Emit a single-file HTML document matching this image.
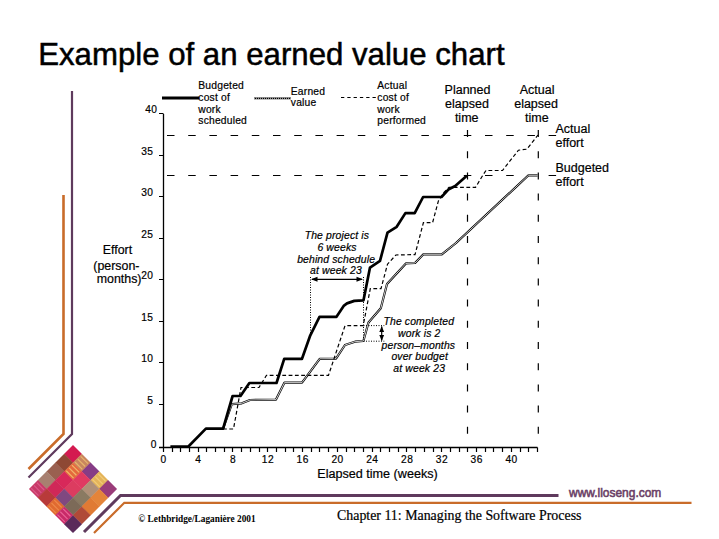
<!DOCTYPE html><html><head><meta charset="utf-8"><style>html,body{margin:0;padding:0;width:719px;height:539px;overflow:hidden;background:#fff}text{fill:#000;stroke:#000;stroke-width:0.2px}</style></head><body><svg width="719" height="539" viewBox="0 0 719 539" style="position:absolute;left:0;top:0"><path d="M72,91 L72,434 L28.5,477.5" fill="none" stroke="#5f3a5d" stroke-width="2.2"/><path d="M63.5,195 L63.5,434 L28.5,469" fill="none" stroke="#c96c2a" stroke-width="2.6"/><path d="M558.5,495.5 L120.5,495.5 L84,532" fill="none" stroke="#5f3a5d" stroke-width="3"/><path d="M691.5,502.8 L124.3,502.8 L94,533" fill="none" stroke="#c96c2a" stroke-width="2.2"/><g transform="translate(73,445) rotate(45)"><rect x="0" y="0" width="12.7" height="12.7" fill="#d41a50"/><rect x="12.4" y="0" width="12.7" height="12.7" fill="#c8865e"/><rect x="24.8" y="0" width="12.7" height="12.7" fill="#863c86"/><rect x="37.2" y="0" width="12.7" height="12.7" fill="#e4b45a"/><rect x="49.6" y="0" width="12.7" height="12.7" fill="#9a3c7a"/><rect x="0" y="12.4" width="12.7" height="12.7" fill="#8e4834"/><rect x="12.4" y="12.4" width="12.7" height="12.7" fill="#e46a3c"/><rect x="24.8" y="12.4" width="12.7" height="12.7" fill="#e03a62"/><rect x="37.2" y="12.4" width="12.7" height="12.7" fill="#b09078"/><rect x="49.6" y="12.4" width="12.7" height="12.7" fill="#e4843a"/><rect x="0" y="24.8" width="12.7" height="12.7" fill="#9a6050"/><rect x="12.4" y="24.8" width="12.7" height="12.7" fill="#d8285a"/><rect x="24.8" y="24.8" width="12.7" height="12.7" fill="#dc3c60"/><rect x="37.2" y="24.8" width="12.7" height="12.7" fill="#8a7a62"/><rect x="49.6" y="24.8" width="12.7" height="12.7" fill="#e07a34"/><rect x="0" y="37.2" width="12.7" height="12.7" fill="#a88070"/><rect x="12.4" y="37.2" width="12.7" height="12.7" fill="#d02858"/><rect x="24.8" y="37.2" width="12.7" height="12.7" fill="#804880"/><rect x="37.2" y="37.2" width="12.7" height="12.7" fill="#7c6a58"/><rect x="49.6" y="37.2" width="12.7" height="12.7" fill="#b04a38"/><rect x="0" y="49.6" width="12.7" height="12.7" fill="#c83a68"/><rect x="12.4" y="49.6" width="12.7" height="12.7" fill="#b83a3a"/><rect x="24.8" y="49.6" width="12.7" height="12.7" fill="#e06a30"/><rect x="37.2" y="49.6" width="12.7" height="12.7" fill="#c82a68"/><rect x="49.6" y="49.6" width="12.7" height="12.7" fill="#5a2a5a"/><rect x="13.4" y="2" width="10.4" height="1.2" fill="#f0c070" opacity="0.8"/><rect x="13.4" y="6" width="10.4" height="1.2" fill="#f0c070" opacity="0.8"/><rect x="13.4" y="10" width="10.4" height="1.2" fill="#f0c070" opacity="0.8"/><rect x="13.4" y="14.4" width="10.4" height="1.2" fill="#f4c878" opacity="0.8"/><rect x="13.4" y="18.4" width="10.4" height="1.2" fill="#f4c878" opacity="0.8"/><rect x="13.4" y="22.4" width="10.4" height="1.2" fill="#f4c878" opacity="0.8"/><rect x="38.2" y="2" width="10.4" height="1.2" fill="#f4d080" opacity="0.8"/><rect x="38.2" y="6" width="10.4" height="1.2" fill="#f4d080" opacity="0.8"/><rect x="38.2" y="10" width="10.4" height="1.2" fill="#f4d080" opacity="0.8"/><rect x="38.2" y="51.6" width="10.4" height="1.2" fill="#f070a0" opacity="0.8"/><rect x="38.2" y="55.6" width="10.4" height="1.2" fill="#f070a0" opacity="0.8"/><rect x="38.2" y="59.6" width="10.4" height="1.2" fill="#f070a0" opacity="0.8"/><rect x="1" y="51.6" width="10.4" height="1.2" fill="#e06090" opacity="0.8"/><rect x="1" y="55.6" width="10.4" height="1.2" fill="#e06090" opacity="0.8"/><rect x="1" y="59.6" width="10.4" height="1.2" fill="#e06090" opacity="0.8"/><rect x="25.8" y="51.6" width="10.4" height="1.2" fill="#f09050" opacity="0.8"/><rect x="25.8" y="55.6" width="10.4" height="1.2" fill="#f09050" opacity="0.8"/><rect x="25.8" y="59.6" width="10.4" height="1.2" fill="#f09050" opacity="0.8"/></g><text x="38.2" y="64.5" font-family="Liberation Sans" font-size="31.2" style="stroke-width:0.5px">Example of an earned value chart</text><path d="M163.5,114 L163.5,447.5 M159,447.5 L537.5,447.5" fill="none" stroke="#000" stroke-width="1.3"/><path d="M159,404.5 L163.5,404.5 M159,362.5 L163.5,362.5 M159,321.5 L163.5,321.5 M159,279.5 L163.5,279.5 M159,238.5 L163.5,238.5 M159,196.5 L163.5,196.5 M159,155.5 L163.5,155.5 M159,113.5 L163.5,113.5 M163.5,447.5 L163.5,452 M172.5,447.5 L172.5,452 M180.5,447.5 L180.5,452 M189.5,447.5 L189.5,452 M198.5,447.5 L198.5,452 M206.5,447.5 L206.5,452 M215.5,447.5 L215.5,452 M224.5,447.5 L224.5,452 M232.5,447.5 L232.5,452 M241.5,447.5 L241.5,452 M250.5,447.5 L250.5,452 M259.5,447.5 L259.5,452 M267.5,447.5 L267.5,452 M276.5,447.5 L276.5,452 M285.5,447.5 L285.5,452 M293.5,447.5 L293.5,452 M302.5,447.5 L302.5,452 M311.5,447.5 L311.5,452 M319.5,447.5 L319.5,452 M328.5,447.5 L328.5,452 M337.5,447.5 L337.5,452 M346.5,447.5 L346.5,452 M354.5,447.5 L354.5,452 M363.5,447.5 L363.5,452 M372.5,447.5 L372.5,452 M380.5,447.5 L380.5,452 M389.5,447.5 L389.5,452 M398.5,447.5 L398.5,452 M406.5,447.5 L406.5,452 M415.5,447.5 L415.5,452 M424.5,447.5 L424.5,452 M433.5,447.5 L433.5,452 M441.5,447.5 L441.5,452 M450.5,447.5 L450.5,452 M459.5,447.5 L459.5,452 M467.5,447.5 L467.5,452 M476.5,447.5 L476.5,452 M485.5,447.5 L485.5,452 M493.5,447.5 L493.5,452 M502.5,447.5 L502.5,452 M511.5,447.5 L511.5,452 M520.5,447.5 L520.5,452 M528.5,447.5 L528.5,452 M537.5,447.5 L537.5,452" stroke="#000" stroke-width="1.2"/><text x="157" y="447.9" text-anchor="end" font-family="Liberation Sans" font-size="10.2" letter-spacing="0.5">0</text><text x="153.5" y="403.9" text-anchor="end" font-family="Liberation Sans" font-size="10.2" letter-spacing="0.5">5</text><text x="153.5" y="362.4" text-anchor="end" font-family="Liberation Sans" font-size="10.2" letter-spacing="0.5">10</text><text x="153.5" y="320.9" text-anchor="end" font-family="Liberation Sans" font-size="10.2" letter-spacing="0.5">15</text><text x="153.5" y="279.4" text-anchor="end" font-family="Liberation Sans" font-size="10.2" letter-spacing="0.5">20</text><text x="153.5" y="237.9" text-anchor="end" font-family="Liberation Sans" font-size="10.2" letter-spacing="0.5">25</text><text x="153.5" y="196.4" text-anchor="end" font-family="Liberation Sans" font-size="10.2" letter-spacing="0.5">30</text><text x="153.5" y="154.9" text-anchor="end" font-family="Liberation Sans" font-size="10.2" letter-spacing="0.5">35</text><text x="157.5" y="113.4" text-anchor="end" font-family="Liberation Sans" font-size="10.2" letter-spacing="0.5">40</text><text x="163.55" y="462.7" text-anchor="middle" font-family="Liberation Sans" font-size="10.2" letter-spacing="0.5">0</text><text x="198.35" y="462.7" text-anchor="middle" font-family="Liberation Sans" font-size="10.2" letter-spacing="0.5">4</text><text x="233.15" y="462.7" text-anchor="middle" font-family="Liberation Sans" font-size="10.2" letter-spacing="0.5">8</text><text x="267.95" y="462.7" text-anchor="middle" font-family="Liberation Sans" font-size="10.2" letter-spacing="0.5">12</text><text x="302.75" y="462.7" text-anchor="middle" font-family="Liberation Sans" font-size="10.2" letter-spacing="0.5">16</text><text x="337.55" y="462.7" text-anchor="middle" font-family="Liberation Sans" font-size="10.2" letter-spacing="0.5">20</text><text x="372.35" y="462.7" text-anchor="middle" font-family="Liberation Sans" font-size="10.2" letter-spacing="0.5">24</text><text x="407.15" y="462.7" text-anchor="middle" font-family="Liberation Sans" font-size="10.2" letter-spacing="0.5">28</text><text x="441.95" y="462.7" text-anchor="middle" font-family="Liberation Sans" font-size="10.2" letter-spacing="0.5">32</text><text x="476.75" y="462.7" text-anchor="middle" font-family="Liberation Sans" font-size="10.2" letter-spacing="0.5">36</text><text x="511.55" y="462.7" text-anchor="middle" font-family="Liberation Sans" font-size="10.2" letter-spacing="0.5">40</text><text x="377.5" y="478.2" text-anchor="middle" font-family="Liberation Sans" font-size="12.62">Elapsed time (weeks)</text><g font-family="Liberation Sans" font-size="12.4" text-anchor="middle"><text x="117.5" y="253.9">Effort</text><text x="116.4" y="269.8">(person-</text><text x="119.1" y="283">months)</text></g><path d="M167,135.5 L174.5,135.5 M188.2,135.5 L195.7,135.5 M209.4,135.5 L216.9,135.5 M230.6,135.5 L238.1,135.5 M251.8,135.5 L259.3,135.5 M273,135.5 L280.5,135.5 M294.2,135.5 L301.7,135.5 M315.4,135.5 L322.9,135.5 M336.6,135.5 L344.1,135.5 M357.8,135.5 L365.3,135.5 M379,135.5 L386.5,135.5 M400.2,135.5 L407.7,135.5 M421.4,135.5 L428.9,135.5 M442.6,135.5 L450.1,135.5 M463.8,135.5 L471.3,135.5 M485,135.5 L492.5,135.5 M506.2,135.5 L513.7,135.5 M527.4,135.5 L534.9,135.5 M548.6,135.5 L556.1,135.5 M167,175.5 L174.5,175.5 M188.2,175.5 L195.7,175.5 M209.4,175.5 L216.9,175.5 M230.6,175.5 L238.1,175.5 M251.8,175.5 L259.3,175.5 M273,175.5 L280.5,175.5 M294.2,175.5 L301.7,175.5 M315.4,175.5 L322.9,175.5 M336.6,175.5 L344.1,175.5 M357.8,175.5 L365.3,175.5 M379,175.5 L386.5,175.5 M400.2,175.5 L407.7,175.5 M421.4,175.5 L428.9,175.5 M442.6,175.5 L450.1,175.5 M463.8,175.5 L471.3,175.5 M485,175.5 L492.5,175.5 M506.2,175.5 L513.7,175.5 M527.4,175.5 L534.9,175.5 M548.6,175.5 L556.1,175.5" stroke="#000" stroke-width="1.2"/><path d="M467.5,130 L467.5,137 M467.5,151.2 L467.5,158.2 M467.5,172.4 L467.5,179.4 M467.5,193.6 L467.5,200.6 M467.5,214.8 L467.5,221.8 M467.5,236 L467.5,243 M467.5,257.2 L467.5,264.2 M467.5,278.4 L467.5,285.4 M467.5,299.6 L467.5,306.6 M467.5,320.8 L467.5,327.8 M467.5,342 L467.5,349 M467.5,363.2 L467.5,370.2 M467.5,384.4 L467.5,391.4 M467.5,405.6 L467.5,412.6 M467.5,426.8 L467.5,433.8 M538.3,130 L538.3,137 M538.3,151.2 L538.3,158.2 M538.3,172.4 L538.3,179.4 M538.3,193.6 L538.3,200.6 M538.3,214.8 L538.3,221.8 M538.3,236 L538.3,243 M538.3,257.2 L538.3,264.2 M538.3,278.4 L538.3,285.4 M538.3,299.6 L538.3,306.6 M538.3,320.8 L538.3,327.8 M538.3,342 L538.3,349 M538.3,363.2 L538.3,370.2 M538.3,384.4 L538.3,391.4 M538.3,405.6 L538.3,412.6 M538.3,426.8 L538.3,433.8" stroke="#000" stroke-width="1.2"/><path d="M223,429 L231.8,404.2 L241.8,403.3 L250,400 L276,399.6 L284.5,382.6 L302,382.6 L319.7,358.8 L336,358.6 L345,345 L355,341.7 L363.4,341 L368.5,322.5 L380.8,308.3 L387,283.9 L405.9,263.4 L415,263 L423.4,254.3 L441.8,254.3 L456,243 L528.5,175.3 L537.6,175.3" fill="none" stroke="#000" stroke-width="2.2" stroke-linejoin="round"/><path d="M223,429 L231.8,404.2 L241.8,403.3 L250,400 L276,399.6 L284.5,382.6 L302,382.6 L319.7,358.8 L336,358.6 L345,345 L355,341.7 L363.4,341 L368.5,322.5 L380.8,308.3 L387,283.9 L405.9,263.4 L415,263 L423.4,254.3 L441.8,254.3 L456,243 L528.5,175.3 L537.6,175.3" fill="none" stroke="#fff" stroke-width="0.8" stroke-linejoin="round"/><path d="M223,429 L233.5,429 L241,387.5 L259,387.5 L266.5,375.3 L328.5,375.3 L345,325.7 L363.2,325.7 L370.3,288.6 L381,288.6 L387.5,264.2 L395.9,255 L415,254.6 L423.4,222.6 L432.6,222.6 L438.4,200.9 L444,192.5 L449,187.4 L475.5,187.4 L483,175 L486,170.5 L502.5,170.5 L518.4,150.2 L526.8,149.2 L538,135" fill="none" stroke="#000" stroke-width="1.2" stroke-dasharray="3.8 2.5"/><path d="M170.4,446.5 L188.4,446.5 L205.9,428.6 L223.1,428.6 L232.6,396 L240.5,396 L249.4,383 L276.5,383 L284.2,358.8 L302,358.8 L310.3,335.3 L319.5,316.8 L336.5,316.8 L344,305.6 L347,303.4 L354.3,300.9 L363.5,300.3 L370,267.6 L380,260.9 L387.5,232.6 L396.7,226.8 L405.4,213.1 L414.7,213.1 L423.1,197 L441.5,197 L448.8,189.2 L455.2,186 L466.8,175.8" fill="none" stroke="#000" stroke-width="2.7" stroke-linejoin="round"/><path d="M162,98 L199,98" stroke="#000" stroke-width="3"/><path d="M254,98.3 L291,98.3" stroke="#000" stroke-width="1.8"/><path d="M254,98.3 L291,98.3" stroke="#fff" stroke-width="0.7" stroke-dasharray="1 1"/><path d="M341,97.5 L377.5,97.5" stroke="#000" stroke-width="1.2" stroke-dasharray="3.3 3"/><g font-family="Liberation Sans" font-size="10.3" letter-spacing="0.2"><text x="198.3" y="88.5">Budgeted</text><text x="198.3" y="101">cost of</text><text x="198.3" y="112.5">work</text><text x="198.3" y="123.7">scheduled</text><text x="290.8" y="94.9">Earned</text><text x="290.8" y="105.6">value</text><text x="377.3" y="88.5">Actual</text><text x="377.3" y="101">cost of</text><text x="377.3" y="112.5">work</text><text x="377.3" y="123.7">performed</text></g><g font-family="Liberation Sans" font-size="12.5" text-anchor="middle"><text x="467.5" y="93.9">Planned</text><text x="467" y="108.1">elapsed</text><text x="466.7" y="122.1">time</text><text x="537.1" y="93.9">Actual</text><text x="536.1" y="108.1">elapsed</text><text x="536.9" y="122.1">time</text></g><g font-family="Liberation Sans" font-size="12.5"><text x="555.5" y="132.8">Actual</text><text x="555.5" y="147.3">effort</text><text x="555.5" y="171.8">Budgeted</text><text x="555.5" y="186.2">effort</text></g><g font-family="Liberation Sans" font-size="10.4" font-style="italic" text-anchor="middle" letter-spacing="0.15"><text x="336.9" y="238.9">The project is</text><text x="337" y="251.2">6 weeks</text><text x="336.1" y="262.8">behind schedule</text><text x="336" y="274">at week 23</text><text x="418.8" y="324.5">The completed</text><text x="419.3" y="336.6">work is 2</text><text x="418.4" y="348.5">person–months</text><text x="419.7" y="360.2">over budget</text><text x="419.2" y="372">at week 23</text></g><path d="M310.5,277 L310.5,335 M363.5,277 L363.5,340 M363.5,325.6 L384.3,325.6 M363.5,341.2 L384.3,341.2" stroke="#000" stroke-width="1" stroke-dasharray="1 1.5"/><path d="M312,279.3 L362,279.3" stroke="#000" stroke-width="1.2"/><path d="M311,279.3 L317.5,276.8 L317.5,281.8 Z M363,279.3 L356.5,276.8 L356.5,281.8 Z" fill="#000"/><path d="M381.7,326.5 L381.7,340.5" stroke="#000" stroke-width="1.2"/><path d="M381.7,326 L379.3,332 L384.1,332 Z M381.7,341 L379.3,335 L384.1,335 Z" fill="#000"/><text x="138.3" y="521.8" font-family="Liberation Serif" font-weight="bold" font-size="9.3" style="stroke-width:0">© Lethbridge/Laganière 2001</text><text x="337" y="520.2" font-family="Liberation Serif" font-size="13.9">Chapter 11: Managing the Software Process</text><text x="569" y="497.1" font-family="Liberation Sans" font-size="13" style="fill:#6b3f66;stroke:#6b3f66;stroke-width:0.6" textLength="92.3" lengthAdjust="spacingAndGlyphs">www.lloseng.com</text></svg></body></html>
